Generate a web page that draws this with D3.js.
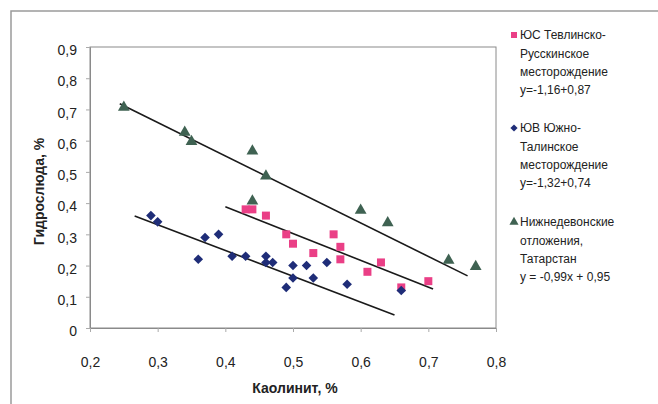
<!DOCTYPE html>
<html>
<head>
<meta charset="utf-8">
<script src="https://cdn.jsdelivr.net/npm/d3@7"></script>
<style>
  body { margin: 0; background: #fff; }
  svg { display: block; font-family: "Liberation Sans", Arial, sans-serif; }
  .tick-label { font-size: 14px; fill: #222; }
  .axis-title { font-size: 14px; font-weight: bold; fill: #222; }
  .legend-text { font-family: "Liberation Sans Narrow", "Arial Narrow", "Liberation Sans", sans-serif; font-size: 12px; fill: #222; }
</style>
</head>
<body>
<div id="chart"></div>
<script>
// --- Data ---
const xTicks = [0.2, 0.3, 0.4, 0.5, 0.6, 0.7, 0.8];
const yTicks = [0, 0.1, 0.2, 0.3, 0.4, 0.5, 0.6, 0.7, 0.8, 0.9];

// ЮС Тевлинско-Русскинское (pink squares)
const pinkX = [0.43, 0.44, 0.46, 0.49, 0.50, 0.53, 0.56, 0.57, 0.57, 0.61, 0.63, 0.66, 0.70];
const pinkY = [0.38, 0.38, 0.36, 0.30, 0.27, 0.24, 0.30, 0.26, 0.22, 0.18, 0.21, 0.13, 0.15];

// ЮВ Южно-Талинское (blue diamonds)
const blueX = [0.29, 0.30, 0.36, 0.37, 0.39, 0.41, 0.43, 0.46, 0.46, 0.47, 0.49, 0.50, 0.50, 0.52, 0.53, 0.55, 0.58, 0.66];
const blueY = [0.36, 0.34, 0.22, 0.29, 0.30, 0.23, 0.23, 0.23, 0.21, 0.21, 0.13, 0.20, 0.16, 0.20, 0.16, 0.21, 0.14, 0.12];

// Нижнедевонские отложения, Татарстан (green triangles)
const greenX = [0.25, 0.34, 0.35, 0.44, 0.46, 0.44, 0.60, 0.64, 0.73, 0.77];
const greenY = [0.71, 0.63, 0.60, 0.57, 0.49, 0.41, 0.38, 0.34, 0.22, 0.20];

// trend lines as drawn: [x1, y1, x2, y2]
const pinkTrend  = [0.40, 0.388, 0.707, 0.125];
const blueTrend  = [0.266, 0.359, 0.65, 0.042];
const greenTrend = [0.244, 0.718, 0.758, 0.167];

const legendLines = [
  ['ЮС Тевлинско-', 'Русскинское', 'месторождение', 'y=-1,16+0,87'],
  ['ЮВ Южно-', 'Талинское', 'месторождение', 'y=-1,32+0,74'],
  ['Нижнедевонские', 'отложения,', 'Татарстан', 'y = -0,99x + 0,95']
];

const colors = { pink: '#ea3f86', blue: '#1f2d78', green: '#3f6252' };

// --- Layout ---
const W = 658, H = 404;
const plot = { left: 90, top: 47, right: 496, bottom: 328 };

const svg = d3.select('#chart').append('svg')
  .attr('width', W).attr('height', H);

// outer frame
svg.append('rect')
  .attr('x', 11).attr('y', 11)
  .attr('width', 700).attr('height', 500)
  .attr('fill', 'none').attr('stroke', '#9a9a9a').attr('stroke-width', 1.5);

const x = d3.scaleLinear().domain([0.2, 0.8]).range([plot.left, plot.right]);
const y = d3.scaleLinear().domain([0, 0.9]).range([plot.bottom, plot.top]);

// plot frame
svg.append('rect')
  .attr('x', plot.left).attr('y', plot.top)
  .attr('width', plot.right - plot.left).attr('height', plot.bottom - plot.top)
  .attr('fill', 'none').attr('stroke', '#8a8a8a').attr('stroke-width', 1);

// axes
const fmt = d => d3.format('.1~f')(d).replace('.', ',');

const yAxis = svg.append('g')
  .attr('transform', `translate(${plot.left},0)`)
  .call(d3.axisLeft(y).tickValues(yTicks).tickSize(4).tickPadding(9).tickFormat(fmt));
const xAxis = svg.append('g')
  .attr('transform', `translate(0,${plot.bottom})`)
  .call(d3.axisBottom(x).tickValues(xTicks).tickSize(4).tickPadding(25).tickFormat(fmt));

[yAxis, xAxis].forEach(a => {
  a.select('.domain').attr('stroke', '#8a8a8a');
  a.selectAll('.tick line').attr('stroke', '#aaa');
  a.selectAll('.tick text').attr('class', 'tick-label').attr('font-size', null).attr('font-family', null);
});
yAxis.selectAll('.tick text').attr('dy', '0.55em');

svg.append('text').attr('class', 'axis-title')
  .attr('transform', `translate(39,${(plot.top + plot.bottom) / 2 + 4}) rotate(-90)`)
  .attr('text-anchor', 'middle').attr('dy', '0.35em')
  .text('Гидрослюда, %');

svg.append('text').attr('class', 'axis-title')
  .attr('x', (plot.left + plot.right) / 2 + 2).attr('y', 388)
  .attr('text-anchor', 'middle').attr('dy', '0.35em')
  .text('Каолинит, %');

// trend lines
[greenTrend, pinkTrend, blueTrend].forEach(t => {
  svg.append('line')
    .attr('x1', x(t[0])).attr('y1', y(t[1]))
    .attr('x2', x(t[2])).attr('y2', y(t[3]))
    .attr('stroke', '#1a1a1a').attr('stroke-width', 1.6);
});

// markers (diamond = square turned by 45°)
const sym = {
  pink: d3.symbol().type(d3.symbolSquare).size(64),
  blue: d3.symbol().type(d3.symbolSquare).size(46),
  green: d3.symbol().type(d3.symbolTriangle).size(60)
};
const rot = { pink: 0, blue: 45, green: 0 };

const series = [
  { key: 'green', xs: greenX, ys: greenY },
  { key: 'pink', xs: pinkX, ys: pinkY },
  { key: 'blue', xs: blueX, ys: blueY }
];

series.forEach(s => {
  svg.append('g').selectAll('path')
    .data(s.xs.map((v, i) => [v, s.ys[i]]))
    .join('path')
      .attr('d', sym[s.key])
      .attr('transform', d => `translate(${x(d[0])},${y(d[1]) + (s.key === 'green' ? 1 : 0)}) rotate(${rot[s.key]})`)
      .attr('fill', colors[s.key]);
});

// legend
const legendKeys = ['pink', 'blue', 'green'];
const legendTop = [35, 128, 222];
const legendSym = {
  pink: d3.symbol().type(d3.symbolSquare).size(36),
  blue: d3.symbol().type(d3.symbolSquare).size(26),
  green: d3.symbol().type(d3.symbolTriangle).size(36)
};

legendKeys.forEach((k, i) => {
  const g = svg.append('g').attr('transform', `translate(514,${legendTop[i]})`);
  g.append('path').attr('d', legendSym[k]).attr('fill', colors[k])
    .attr('transform', `rotate(${rot[k]})`);
  legendLines[i].forEach((line, j) => {
    g.append('text').attr('class', 'legend-text')
      .attr('x', 6).attr('y', j * 18.3).attr('dy', '0.35em')
      .text(line);
  });
});
</script>
</body>
</html>
